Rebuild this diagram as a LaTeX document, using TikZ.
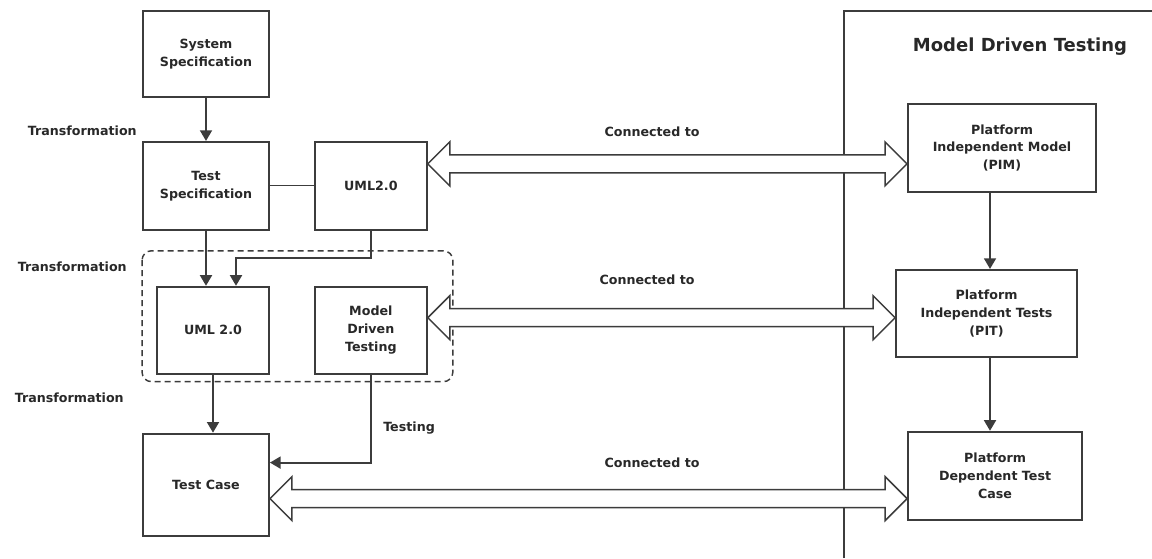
\documentclass[tikz,border=0pt]{standalone}
\usepackage{fontspec}
\setmainfont{DejaVu Sans}
\usepackage{xcolor}
\usepackage{tikz}
\definecolor{linegray}{RGB}{60, 60, 60}
\definecolor{textgray}{RGB}{40, 40, 40}
\usetikzlibrary{arrows.meta, positioning, calc}

% hollow double arrow between two horizontal points
\newcommand{\linkarrow}[2]{%
  \draw[bigarrow] let \p1=(#1), \p2=(#2) in
    (\x1,\y1) -- (\x1+16.5pt,\y1+16.5pt) -- (\x1+16.5pt,\y1+6.75pt) -- (\x2-16.5pt,\y1+6.75pt)
    -- (\x2-16.5pt,\y1+16.5pt) -- (\x2,\y1) -- (\x2-16.5pt,\y1-16.5pt) -- (\x2-16.5pt,\y1-6.75pt)
    -- (\x1+16.5pt,\y1-6.75pt) -- (\x1+16.5pt,\y1-16.5pt) -- cycle;}

\begin{document}
\begin{tikzpicture}[
        every node/.style={font=\fontsize{9.5}{13.3}\selectfont\bfseries, text=textgray},
        box/.style={rectangle, draw=linegray, line width=1.4pt, fill=white, align=center, inner sep=0pt},
        arrow/.style={line width=1.4pt,->,>={Triangle[width=9pt,length=8pt]},color=linegray},
        link/.style={line width=0.8pt, color=linegray},
        group/.style={line width=1.1pt, dash pattern=on 4.5pt off 3pt, rounded corners=7pt, color=linegray},
        frame/.style={line width=1.4pt, color=linegray},
        bigarrow/.style={line width=1.1pt, draw=linegray, fill=white, line join=miter},
        labeltext/.style={inner sep=0pt}
    ]
        \useasboundingbox (0,0) rectangle (864pt,-418.5pt);

        \node[box, minimum width=94.5pt, minimum height=64.5pt] (sysspec) at (154.5pt,-40.5pt) {System\\Specification};
        \node[box, minimum width=94.5pt, minimum height=66pt, below=32.25pt of sysspec] (testspec) {Test\\Specification};
        \node[box, minimum width=84pt, minimum height=66pt, right=33pt of testspec] (umltop) {UML2.0};
        \node[box, minimum width=84pt, minimum height=65.25pt, below left=41.25pt and 0pt of testspec.south east] (umlmid) {UML 2.0};
        \node[box, minimum width=84pt, minimum height=65.25pt, right=33pt of umlmid] (mdt) {Model\\Driven\\Testing};
        \node[box, minimum width=94.5pt, minimum height=76.5pt, below left=43.5pt and 0pt of umlmid.south east] (testcase) {Test Case};

        \node[box, minimum width=141pt, minimum height=66pt] (pim) at (751.5pt,-111pt) {Platform\\Independent Model\\(PIM)};
        \node[box, minimum width=135.75pt, minimum height=65.25pt, below=57pt of pim, xshift=-11.6pt] (pit) {Platform\\Independent Tests\\(PIT)};
        \node[box, minimum width=130.5pt, minimum height=66pt, below=54.75pt of pit, xshift=6.4pt] (pdtc) {Platform\\Dependent Test\\Case};

        \node[font=\fontsize{13.5}{16}\selectfont\bfseries] (mdttitle) at (765pt,-35.25pt) {Model Driven Testing};

        \node[labeltext, anchor=east] (trans1) at (102.75pt,-98.25pt) {Transformation};
        \node[labeltext, anchor=east] (trans2) at (95.25pt,-200.25pt) {Transformation};
        \node[labeltext, anchor=east] (trans3) at (93pt,-298.5pt) {Transformation};
        \node[labeltext, anchor=west] (testing) at (287.25pt,-321pt) {Testing};
        \node[labeltext] (conn1) at (489pt,-99pt) {Connected to};
        \node[labeltext] (conn2) at (485.25pt,-210pt) {Connected to};
        \node[labeltext] (conn3) at (489pt,-347.25pt) {Connected to};

        \draw[frame] (633pt,-418.5pt) -- (633pt,-8.25pt) -- (864pt,-8.25pt);
        \draw[group] ([xshift=-10.5pt,yshift=26.25pt]umlmid.north west) rectangle ([xshift=18.75pt,yshift=-5.25pt]mdt.south east);

        \draw[arrow] (sysspec) -- (testspec);
        \draw[link] (testspec) -- (umltop);
        \draw[arrow] (testspec.south) -- (testspec.south |- umlmid.north);
        \draw[arrow] (umltop.south) -- ++(0,-20.25pt) -| ([xshift=17.25pt]umlmid.north);
        \draw[arrow] (umlmid.south) -- (umlmid.south |- testcase.north);
        \draw[arrow] (mdt.south) |- ([yshift=16.5pt]testcase.east);
        \draw[arrow] ([xshift=2.6pt]pim.south -| pit.north) -- ([xshift=2.6pt]pit.north);
        \draw[arrow] ([xshift=2.6pt]pit.south) -- ([xshift=2.6pt]pit.south |- pdtc.north);

        \linkarrow{[yshift=16.5pt]umltop.east}{pim.west}
        \linkarrow{[yshift=9.4pt]mdt.east}{pit.west}
        \linkarrow{[yshift=-10.5pt]testcase.east}{pdtc.west}

    \end{tikzpicture}
\end{document}
